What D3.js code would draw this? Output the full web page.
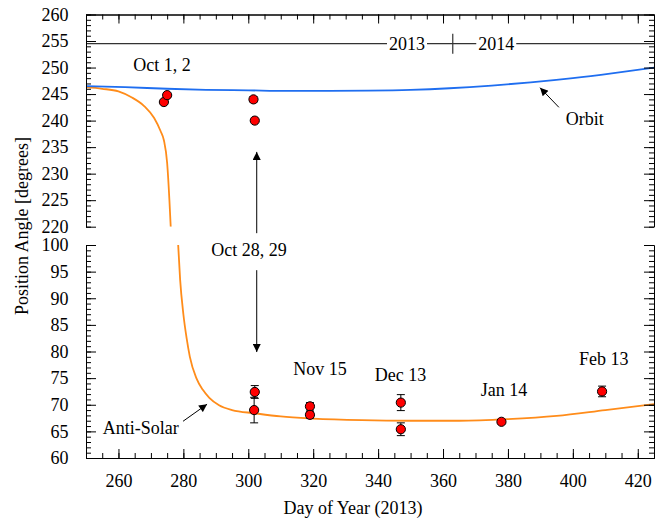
<!DOCTYPE html>
<html>
<head>
<meta charset="utf-8">
<script src="https://cdn.jsdelivr.net/npm/d3@7"></script>
<style>
body { margin: 0; background: #fff; }
text { font-family: "Liberation Serif", "Times New Roman", serif; fill: #000; }
</style>
</head>
<body>
<div id="chart"></div>
<script>
// Values
const xTicks = [260, 280, 300, 320, 340, 360, 380, 400, 420];
const upperTicks = [220, 225, 230, 235, 240, 245, 250, 255, 260];
const lowerTicks = [60, 65, 70, 75, 80, 85, 90, 95, 100];

// orbit plane position angle
const orbitDay   = [250, 262, 275, 287, 300, 312, 325, 337, 350, 362, 375, 387, 400, 412, 425];
const orbitAngle = [246.5, 246.3, 246.0, 245.8, 245.7, 245.6, 245.6, 245.65, 245.8, 246.1, 246.6, 247.2, 248.0, 248.9, 250.0];

// anti-solar direction (drops through the axis break)
const antiDay   = [250, 255, 260, 264, 268, 271, 273, 274, 275, 275.7, 276.1, 278.4, 279, 280, 281, 282, 284, 286, 288, 291, 295, 302, 310, 320, 335, 350, 365, 380, 395, 410, 425];
const antiAngle = [246.3, 246.0, 245.5, 244.4, 242.7, 240.5, 238.0, 236.3, 232, 225, 220, 100, 93.5, 87, 82.5, 79, 75, 72.8, 71.3, 69.9, 69.0, 68.4, 67.8, 67.4, 67.1, 67.0, 67.0, 67.3, 67.9, 69.0, 70.1];

// measured position angles with errors
const obsDay   = [274, 275, 301.6, 302, 302, 301.8, 319, 319, 347, 347, 378, 409];
const obsAngle = [243.5, 244.8, 244.0, 240.0, 72.4, 69.0, 69.7, 68.1, 70.4, 65.4, 66.8, 72.5];
const obsErr   = [0.2, 0.2, 0.5, 0.2, 1.2, 2.4, 0.7, 0.6, 1.5, 1.2, 0.3, 1.0];

const width = 665, height = 522;

const svg = d3.select("#chart").append("svg")
    .attr("width", width)
    .attr("height", height);

const x = d3.scaleLinear().domain([250, 425]).range([86, 654]);
const yTop = d3.scaleLinear().domain([220, 260]).range([226.7, 14.5]);
const yBot = d3.scaleLinear().domain([60, 100]).range([458, 245]);
const yOf = v => v >= 160 ? yTop(v) : yBot(v);

const fontSize = "18px";

// clip paths for the two panels
const defs = svg.append("defs");
defs.append("clipPath").attr("id", "clipTop").append("rect")
    .attr("x", x(250)).attr("y", yTop(260))
    .attr("width", x(425) - x(250)).attr("height", yTop(220) - yTop(260));
defs.append("clipPath").attr("id", "clipBot").append("rect")
    .attr("x", x(250)).attr("y", yBot(100))
    .attr("width", x(425) - x(250)).attr("height", yBot(60) - yBot(100));

// arrowhead
defs.append("marker")
    .attr("id", "head")
    .attr("viewBox", "0 0 10 10")
    .attr("refX", 10).attr("refY", 5)
    .attr("markerWidth", 10).attr("markerHeight", 8)
    .attr("markerUnits", "userSpaceOnUse")
    .attr("orient", "auto-start-reverse")
    .append("path")
    .attr("d", "M0,0L10,5L0,10z")
    .attr("fill", "#000");

// curves
const orbit = orbitDay.map((d, i) => ({ d: d, a: orbitAngle[i] }));
const anti = antiDay.map((d, i) => ({ d: d, a: antiAngle[i] }));

const lineTop = d3.line().defined(p => p.a >= 220)
    .x(p => x(p.d)).y(p => yTop(p.a)).curve(d3.curveMonotoneX);
const lineBot = d3.line().defined(p => p.a <= 100)
    .x(p => x(p.d)).y(p => yBot(p.a)).curve(d3.curveMonotoneX);

[[anti, "#ff8c1a"], [orbit, "#1f6ef0"]].forEach(([data, col]) => {
    svg.append("path").datum(data)
        .attr("clip-path", "url(#clipTop)")
        .attr("d", lineTop)
        .attr("fill", "none").attr("stroke", col).attr("stroke-width", 1.8);
    svg.append("path").datum(data)
        .attr("clip-path", "url(#clipBot)")
        .attr("d", lineBot)
        .attr("fill", "none").attr("stroke", col).attr("stroke-width", 1.8);
});

// error bars and points
const obs = obsDay.map((d, i) => ({ d: d, a: obsAngle[i], e: obsErr[i] }));
const eb = svg.append("g").attr("stroke", "#000").attr("stroke-width", 1);
obs.forEach(o => {
    const cx = x(o.d), y1 = yOf(o.a + o.e), y2 = yOf(o.a - o.e);
    eb.append("line").attr("x1", cx).attr("x2", cx).attr("y1", y1).attr("y2", y2);
    eb.append("line").attr("x1", cx - 4).attr("x2", cx + 4).attr("y1", y1).attr("y2", y1);
    eb.append("line").attr("x1", cx - 4).attr("x2", cx + 4).attr("y1", y2).attr("y2", y2);
});
svg.append("g").selectAll("circle").data(obs).join("circle")
    .attr("cx", o => x(o.d))
    .attr("cy", o => yOf(o.a))
    .attr("r", 4.6)
    .attr("fill", "#ff0000")
    .attr("stroke", "#000")
    .attr("stroke-width", 1);

// annotations
function label(txt, day, yPix) {
    return svg.append("text")
        .attr("x", x(day)).attr("y", yPix)
        .attr("text-anchor", "middle")
        .style("font-size", fontSize)
        .text(txt);
}
label("Oct 1, 2", 273.4, yTop(249.4));
label("Oct 28, 29", 300.2, yBot(97.9));
label("Nov 15", 322.1, yBot(75.6));
label("Dec 13", 346.9, yBot(74.55));
label("Jan 14", 378.8, yBot(71.7));
label("Feb 13", 409.5, yBot(77.5));
label("Orbit", 403.7, yTop(239.1));
label("Anti-Solar", 266.9, yBot(64.6));

function arrow(x1, y1, x2, y2) {
    svg.append("line")
        .attr("x1", x1).attr("y1", y1).attr("x2", x2).attr("y2", y2)
        .attr("stroke", "#000").attr("stroke-width", 1)
        .attr("marker-end", "url(#head)");
}
arrow(x(395.7), yTop(242.5), x(389.9), yTop(246.2));
arrow(x(279.9), yBot(66.9), x(287.3), yBot(70.1));

// double arrow between Oct 28/29 points, broken for its label
const ax = x(302.6);
const labBase = yBot(97.9);
arrow(ax, labBase - 23, ax, yTop(234.1));
arrow(ax, labBase + 14, ax, yBot(79.9));

// year divider line
const yearY = yTop(254.5);
svg.append("line")
    .attr("x1", x(250)).attr("x2", x(425))
    .attr("y1", yearY).attr("y2", yearY)
    .attr("stroke", "#333").attr("stroke-width", 1.2);
svg.append("line")
    .attr("x1", x(363)).attr("x2", x(363))
    .attr("y1", yearY - 10).attr("y2", yearY + 10)
    .attr("stroke", "#333").attr("stroke-width", 1.2);
[["2013", 348.9], ["2014", 376.4]].forEach(([t, d]) => {
    const tx = svg.append("text")
        .attr("x", x(d)).attr("y", yearY + 6.5)
        .attr("text-anchor", "middle")
        .style("font-size", fontSize)
        .text(t);
    const b = tx.node().getBBox();
    svg.insert("rect", () => tx.node())
        .attr("x", b.x - 2).attr("y", yearY - 3)
        .attr("width", b.width + 4).attr("height", 6)
        .attr("fill", "#fff");
});

// axes
function styleAxis(g) {
    g.selectAll("path, line").attr("stroke", "#000").attr("stroke-width", 1);
    g.selectAll("text").style("font-size", fontSize)
        .style("font-family", "'Liberation Serif', 'Times New Roman', serif");
}
const minorX = d3.range(250, 426, 5);

// bottom
svg.append("g").attr("transform", `translate(0,${yBot(60)})`)
    .call(d3.axisBottom(x).tickValues(minorX).tickSizeInner(-5).tickSizeOuter(0).tickFormat(""))
    .call(styleAxis);
svg.append("g").attr("transform", `translate(0,${yBot(60)})`)
    .call(d3.axisBottom(x).tickValues(xTicks).tickSizeInner(-9).tickSizeOuter(0).tickPadding(16.5).tickFormat(d3.format("d")))
    .call(styleAxis);
// top
svg.append("g").attr("transform", `translate(0,${yTop(260)})`)
    .call(d3.axisTop(x).tickValues(minorX).tickSizeInner(-5).tickSizeOuter(0).tickFormat(""))
    .call(styleAxis);
svg.append("g").attr("transform", `translate(0,${yTop(260)})`)
    .call(d3.axisTop(x).tickValues(xTicks).tickSizeInner(-9).tickSizeOuter(0).tickFormat(""))
    .call(styleAxis);

// left and right, both panels
[[yTop, upperTicks, d3.range(220, 261, 1)], [yBot, lowerTicks, d3.range(60, 101, 1)]].forEach(([ys, major, minor]) => {
    svg.append("g").attr("transform", `translate(${x(250)},0)`)
        .call(d3.axisLeft(ys).tickValues(minor).tickSizeInner(-5).tickSizeOuter(0).tickFormat(""))
        .call(styleAxis);
    svg.append("g").attr("transform", `translate(${x(250)},0)`)
        .call(d3.axisLeft(ys).tickValues(major).tickSizeInner(-10).tickSizeOuter(0).tickPadding(17.5).tickFormat(d3.format("d")))
        .call(styleAxis);
    svg.append("g").attr("transform", `translate(${x(425)},0)`)
        .call(d3.axisRight(ys).tickValues(minor).tickSizeInner(-5).tickSizeOuter(0).tickFormat(""))
        .call(styleAxis);
    svg.append("g").attr("transform", `translate(${x(425)},0)`)
        .call(d3.axisRight(ys).tickValues(major).tickSizeInner(-10).tickSizeOuter(0).tickFormat(""))
        .call(styleAxis);
});

// axis titles
svg.append("text")
    .attr("x", 353)
    .attr("y", 514)
    .attr("text-anchor", "middle")
    .style("font-size", fontSize)
    .text("Day of Year (2013)");

svg.append("text")
    .attr("transform", "translate(22,226) rotate(-90)")
    .attr("dy", "0.35em")
    .attr("text-anchor", "middle")
    .style("font-size", fontSize)
    .text("Position Angle [degrees]");
</script>
</body>
</html>
